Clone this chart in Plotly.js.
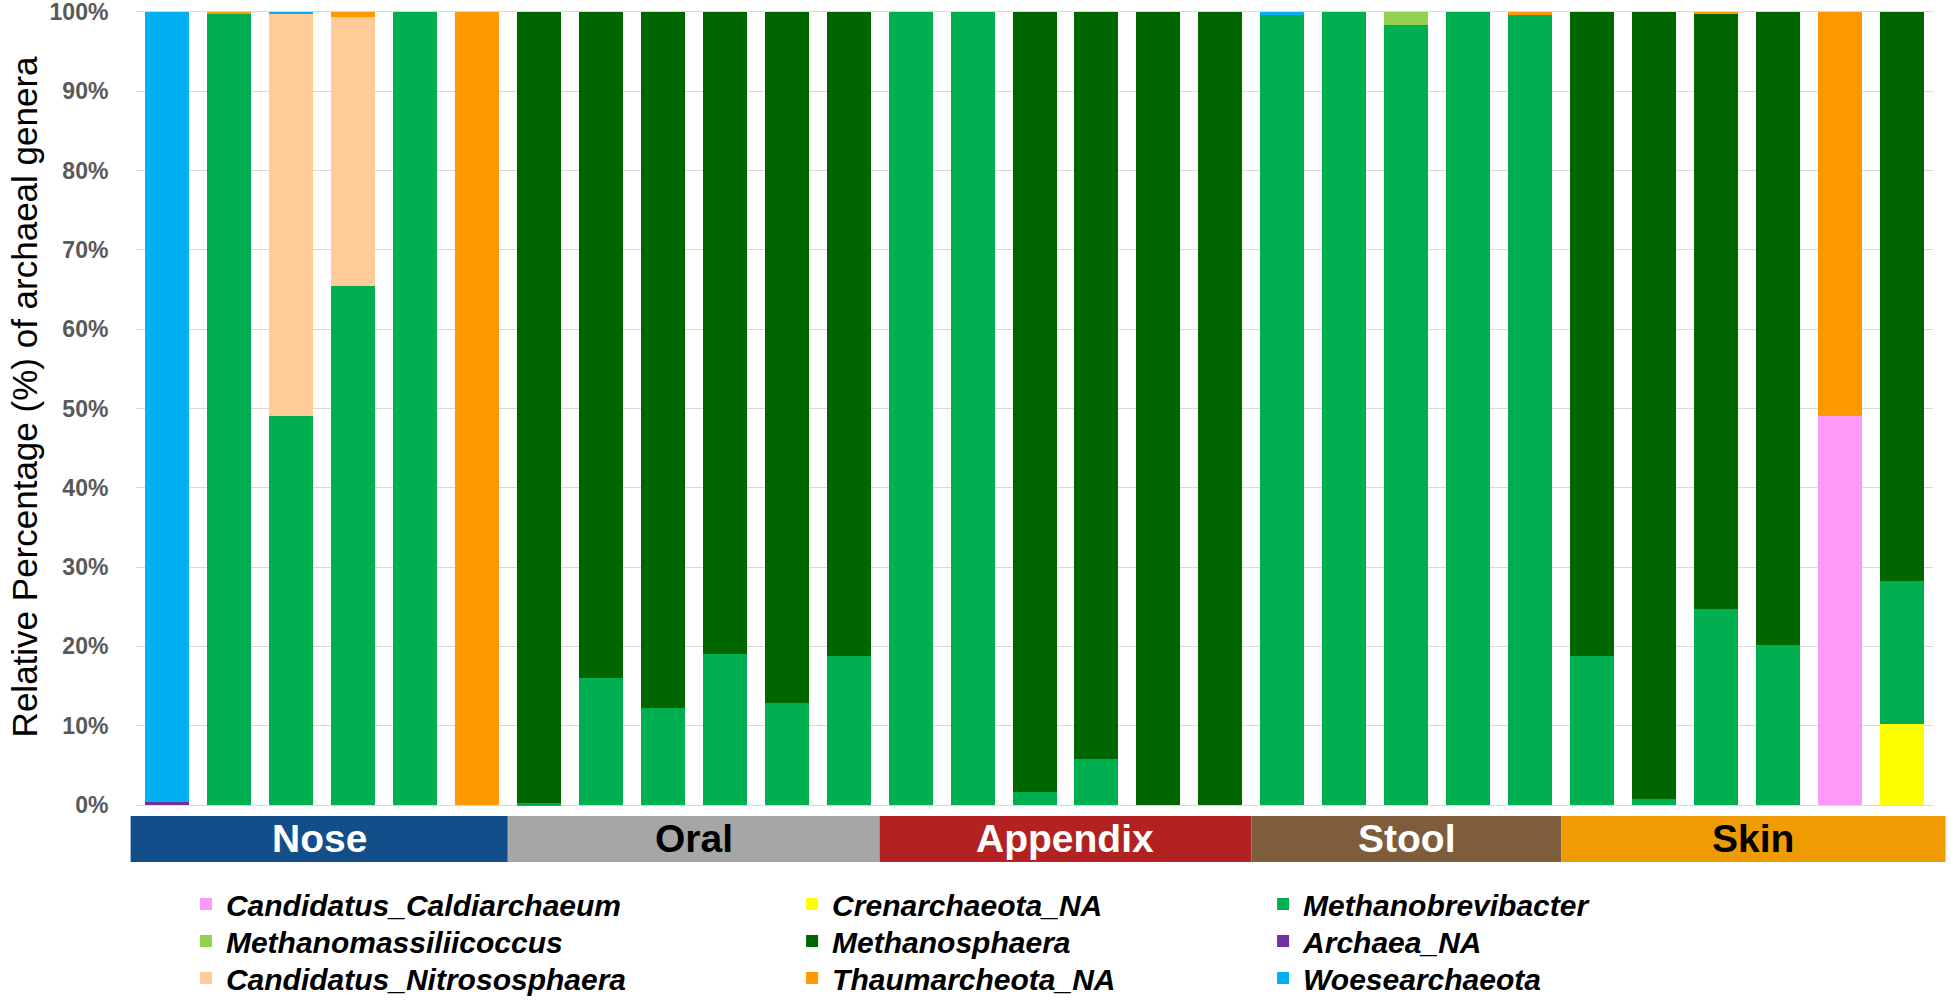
<!DOCTYPE html>
<html>
<head>
<meta charset="utf-8">
<script src="https://cdn.plot.ly/plotly-3.0.1.min.js"></script>
<style>
html, body { margin: 0; padding: 0; background: #fff; }
#chart { width: 1951px; height: 1003px; }
</style>
</head>
<body>
<div id="chart"></div>
<script>
// sample groups along the x axis
const groups = ['Nose', 'Oral', 'Appendix', 'Stool', 'Skin'];
const groupSizes = [6, 6, 6, 5, 6];
const groupColors = ['#124E8A', '#A6A6A6', '#B22222', '#7D5D3C', '#EF9B04'];
const groupTextColors = ['#ffffff', '#000000', '#ffffff', '#ffffff', '#000000'];

// genera, in stacking order (bottom -> top)
const genera = [
    'Candidatus_Caldiarchaeum', 'Crenarchaeota_NA', 'Methanobrevibacter',
    'Methanomassiliicoccus', 'Methanosphaera', 'Archaea_NA',
    'Candidatus_Nitrososphaera', 'Thaumarcheota_NA', 'Woesearchaeota'
];
const generaColors = [
    '#FF99F8', '#FFFF00', '#00B050',
    '#92D050', '#006600', '#7030A0',
    '#FFCC99', '#FF9900', '#00B0F0'
];

// y axis ticks
const yTicks = [0, 10, 20, 30, 40, 50, 60, 70, 80, 90, 100];

// relative percentage per sample (Nose x6, Oral x6, Appendix x6, Stool x5, Skin x6)
const caldiarchaeum = [0, 0, 0, 0, 0, 0, 0, 0, 0, 0, 0, 0, 0, 0, 0, 0, 0, 0, 0, 0, 0, 0, 0, 0, 0, 0, 0, 49, 0];
const crenarchaeotaNA = [0, 0, 0, 0, 0, 0, 0, 0, 0, 0, 0, 0, 0, 0, 0, 0, 0, 0, 0, 0, 0, 0, 0, 0, 0, 0, 0, 0, 10.2];
const methanobrevibacter = [0, 99.7, 49, 65.5, 100, 0, 0.2, 16, 12.2, 19, 12.9, 18.8, 100, 100, 1.7, 5.8, 0, 0, 99.6, 100, 98.3, 100, 99.6, 18.8, 0.7, 24.7, 20.2, 0, 18];
const methanomassiliicoccus = [0, 0, 0, 0, 0, 0, 0, 0, 0, 0, 0, 0, 0, 0, 0, 0, 0, 0, 0, 0, 1.7, 0, 0, 0, 0, 0, 0, 0, 0];
const methanosphaera = [0, 0, 0, 0, 0, 0, 99.8, 84, 87.8, 81, 87.1, 81.2, 0, 0, 98.3, 94.2, 100, 100, 0, 0, 0, 0, 0, 81.2, 99.3, 75.1, 79.8, 0, 71.8];
const archaeaNA = [0.4, 0, 0, 0, 0, 0, 0, 0, 0, 0, 0, 0, 0, 0, 0, 0, 0, 0, 0, 0, 0, 0, 0, 0, 0, 0, 0, 0, 0];
const nitrososphaera = [0, 0, 50.7, 33.9, 0, 0, 0, 0, 0, 0, 0, 0, 0, 0, 0, 0, 0, 0, 0, 0, 0, 0, 0, 0, 0, 0, 0, 0, 0];
const thaumarcheotaNA = [0, 0.3, 0, 0.6, 0, 100, 0, 0, 0, 0, 0, 0, 0, 0, 0, 0, 0, 0, 0, 0, 0, 0, 0.4, 0, 0, 0.2, 0, 51, 0];
const woesearchaeota = [99.6, 0, 0.3, 0, 0, 0, 0, 0, 0, 0, 0, 0, 0, 0, 0, 0, 0, 0, 0.4, 0, 0, 0, 0, 0, 0, 0, 0, 0, 0];

const seriesValues = [
    caldiarchaeum, crenarchaeotaNA, methanobrevibacter,
    methanomassiliicoccus, methanosphaera, archaeaNA,
    nitrososphaera, thaumarcheotaNA, woesearchaeota
];

document.addEventListener('DOMContentLoaded', function() {
    drawChart();
});

function drawChart() {
    const samples = [];
    groups.forEach((g, gi) => {
        for (let k = 1; k <= groupSizes[gi]; k++) {
            samples.push(g + ' ' + k);
        }
    });
    const n = samples.length;

    // one legend per entry so the 3x3 grid can be placed like the original
    const legendId = i => (i === 0 ? 'legend' : 'legend' + (i + 1));

    const data = genera.map((name, i) => ({
        type: 'bar',
        name: name,
        x: samples,
        y: seriesValues[i],
        marker: { color: generaColors[i], line: { width: 0 } },
        legend: legendId(i),
        hovertemplate: '%{x}<br>' + name + ': %{y}%<extra></extra>'
    }));

    // coloured band under the bars, one block per body site
    const shapes = [];
    const annotations = [];
    const bandTop = -0.0113;
    const bandBottom = -0.069;
    let start = 0;
    groups.forEach((g, gi) => {
        const end = start + groupSizes[gi];
        let x0 = start / n;
        let x1 = end / n;
        if (gi === 0) x0 = -0.003;
        if (gi === groups.length - 1) x1 = 1.007;
        shapes.push({
            type: 'rect',
            xref: 'paper', yref: 'paper',
            x0: x0, x1: x1, y0: bandBottom, y1: bandTop,
            fillcolor: groupColors[gi],
            line: { width: 0 },
            layer: 'above'
        });
        annotations.push({
            xref: 'paper', yref: 'paper',
            x: (x0 + x1) / 2, y: (bandTop + bandBottom) / 2,
            text: g,
            showarrow: false,
            xanchor: 'center', yanchor: 'middle',
            font: { family: 'Liberation Sans, Arial, sans-serif', size: 39, color: groupTextColors[gi], weight: 'bold' }
        });
        start = end;
    });

    // y axis title, drawn as a rotated annotation left of the tick labels
    annotations.push({
        xref: 'paper', yref: 'paper',
        x: -0.0623, y: 0.514,
        xanchor: 'center', yanchor: 'middle',
        textangle: -90,
        showarrow: false,
        text: 'Relative Percentage (%) of archaeal genera',
        font: { family: 'Liberation Sans, Arial, sans-serif', size: 35, color: '#000000' }
    });

    const legendFont = {
        family: 'Liberation Sans, Arial, sans-serif',
        size: 30,
        color: '#000000',
        weight: 'bold',
        style: 'italic'
    };
    const legendColX = [0.0953, 0.406, 0.6474];
    const legendRowY = [1 - 904 / 1003, 1 - 941 / 1003, 1 - 978 / 1003];

    const layout = {
        width: 1951,
        height: 1003,
        margin: { l: 136, r: 18, t: 10, b: 196, autoexpand: false },
        paper_bgcolor: '#ffffff',
        plot_bgcolor: '#ffffff',
        barmode: 'stack',
        bargap: 0.29,
        font: { family: 'Liberation Sans, Arial, sans-serif' },
        xaxis: {
            type: 'category',
            range: [-0.5, n - 0.5],
            showticklabels: false,
            showgrid: false,
            zeroline: false,
            showline: false,
            ticks: ''
        },
        yaxis: {
            range: [-0.25, 100.25],
            tickmode: 'array',
            tickvals: yTicks,
            ticktext: yTicks.map(v => v + '%'),
            ticklabeloverflow: 'allow',
            showgrid: true,
            gridcolor: '#D9D9D9',
            gridwidth: 1,
            zeroline: false,
            showline: false,
            ticks: 'outside',
            ticklen: 22,
            tickcolor: 'rgba(0,0,0,0)',
            tickfont: { family: 'Liberation Sans, Arial, sans-serif', size: 23, color: '#595959', weight: 'bold' },
            automargin: false
        },
        shapes: shapes,
        annotations: annotations,
        showlegend: true
    };

    genera.forEach((name, i) => {
        layout[legendId(i)] = {
            xref: 'container', yref: 'container',
            xanchor: 'left', yanchor: 'middle',
            x: legendColX[i % 3],
            y: legendRowY[Math.floor(i / 3)],
            orientation: 'v',
            bgcolor: 'rgba(0,0,0,0)',
            font: legendFont,
            itemclick: false
        };
    });

    Plotly.newPlot('chart', data, layout, { displayModeBar: false, responsive: false });
}
</script>
</body>
</html>
